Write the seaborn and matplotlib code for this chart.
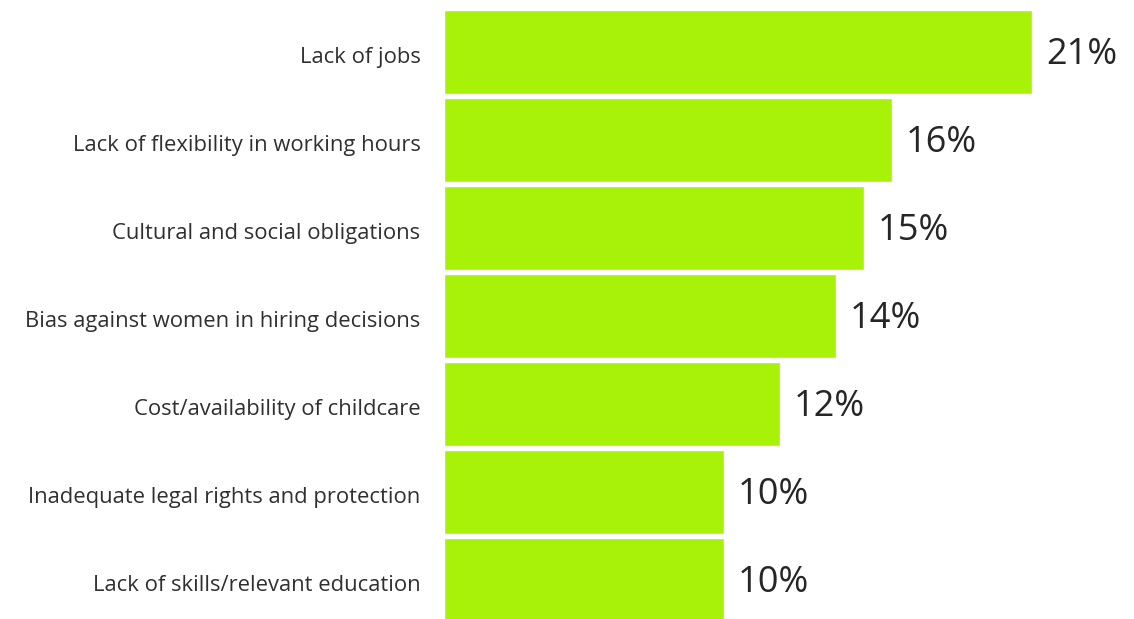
import matplotlib
matplotlib.use("Agg")
import matplotlib.pyplot as plt
import matplotlib.transforms as mtransforms
import seaborn as sns
import pandas as pd

categories = [
    "Lack of jobs",
    "Lack of flexibility in working hours",
    "Cultural and social obligations",
    "Bias against women in hiring decisions",
    "Cost/availability of childcare",
    "Inadequate legal rights and protection",
    "Lack of skills/relevant education",
]
values = [21, 16, 15, 14, 12, 10, 10]
value_labels = ["21%", "16%", "15%", "14%", "12%", "10%", "10%"]

df = pd.DataFrame({"category": categories, "value": values})

sns.set_theme(style="white")
plt.rcParams["font.family"] = ["Open Sans", "DejaVu Sans"]

fig = plt.figure(figsize=(11.34, 6.19), dpi=100)
ax = fig.add_axes([444 / 1134, 0, 690 / 1134, 1])

sns.barplot(data=df, x="value", y="category", color="#a8f20a",
            saturation=1, width=0.955, ax=ax)

# labels at bar ends
for i, (v, lab) in enumerate(zip(values, value_labels)):
    ax.text(v + 0.5, i + 0.03, lab, va="center", ha="left",
            fontsize=26, color="#262626")

ax.set_xlim(0, 690 / 28)
ax.set_ylim((619 - 52) / 88, -52 / 88)
ax.set_xlabel("")
ax.set_ylabel("")
ax.set_xticks([])
ax.tick_params(axis="y", length=0, pad=17, labelsize=15.8, labelcolor="#303030")
# nudge category labels down a little, like the original
shift = mtransforms.ScaledTranslation(0, -3 / 100, fig.dpi_scale_trans)
for t in ax.get_yticklabels():
    t.set_transform(t.get_transform() + shift)
sns.despine(ax=ax, left=True, bottom=True)

fig.savefig("out.png", dpi=100)
